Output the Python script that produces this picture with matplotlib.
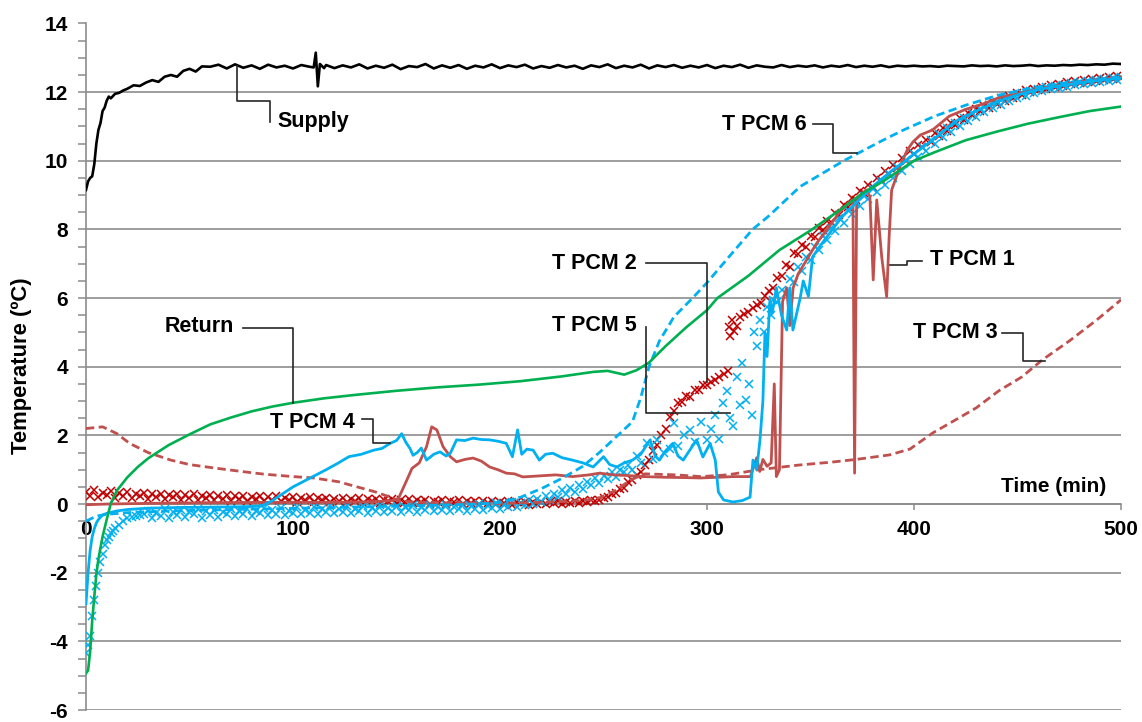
import matplotlib
matplotlib.use("Agg")
import matplotlib.pyplot as plt
from matplotlib.ticker import MultipleLocator

plt.rcParams['font.family'] = ['Liberation Sans', 'DejaVu Sans']
plt.rcParams['font.weight'] = 'bold'
plt.rcParams['axes.unicode_minus'] = False

# ---------------- data (time in min, temperature in degC) ----------------
supply_t = ([0, 1, 2, 3, 4, 5, 6, 7, 8, 9, 10, 11, 12, 14, 16, 18, 20, 23, 26, 29,
             32, 35, 38, 41, 44, 47, 50, 53, 56]
            + list(range(60, 109, 4)) + [110, 111, 112, 113, 115]
            + list(range(116, 501, 4)))
supply_v = ([9.15, 9.4, 9.5, 9.55, 9.9, 10.5, 10.9, 11.1, 11.45, 11.55, 11.75, 11.87, 11.82,
             11.95, 11.98, 12.05, 12.1, 12.2, 12.18, 12.28, 12.35, 12.3, 12.45, 12.5, 12.45,
             12.62, 12.68, 12.6, 12.75]
            + [12.74, 12.80, 12.69, 12.81, 12.71, 12.78, 12.68, 12.80, 12.72, 12.77, 12.69,
               12.79, 12.74]
            + [12.72, 13.15, 12.17, 12.82, 12.70]
            + [12.79, 12.70, 12.78, 12.72, 12.81, 12.69, 12.77, 12.71, 12.80, 12.67, 12.76,
               12.73, 12.82, 12.69, 12.78, 12.71, 12.79, 12.68, 12.77, 12.72, 12.81]
            + [12.70, 12.78, 12.73, 12.80, 12.69, 12.76, 12.71, 12.79, 12.72, 12.77, 12.68,
               12.78, 12.73, 12.81, 12.70, 12.77, 12.72, 12.80, 12.69, 12.78, 12.73, 12.79,
               12.71, 12.77, 12.72]
            + [12.79, 12.70, 12.77, 12.73, 12.80, 12.71, 12.78, 12.74, 12.72, 12.79, 12.73,
               12.77, 12.74, 12.78, 12.72, 12.77, 12.74, 12.79, 12.73, 12.77, 12.74, 12.78,
               12.73, 12.77, 12.75]
            + [12.77, 12.75, 12.76, 12.74, 12.77, 12.76, 12.75, 12.78, 12.76, 12.77, 12.75,
               12.78, 12.76, 12.77, 12.79, 12.76, 12.78, 12.77, 12.79, 12.78, 12.80, 12.79,
               12.81, 12.80, 12.83, 12.82])

return_t = [0, 1, 2, 3, 4, 5, 6, 8, 10, 12, 15, 20, 25, 30, 40, 50, 60, 70, 80, 90, 100,
            115, 130, 150, 170, 190, 210, 230, 245, 252, 260, 266, 272, 280, 290, 300, 305,
            320, 335, 350, 365, 375, 385, 400, 410, 425, 440, 455, 470, 485, 500]
return_v = [-4.93, -4.85, -4.3, -3.4, -2.7, -2.05, -1.6, -0.95, -0.45, 0.02, 0.4, 0.78, 1.08,
            1.33, 1.72, 2.03, 2.32, 2.52, 2.7, 2.84, 2.95, 3.08, 3.18, 3.3, 3.4, 3.48, 3.58,
            3.72, 3.85, 3.88, 3.77, 3.9, 4.12, 4.6, 5.15, 5.65, 6.0, 6.65, 7.4, 7.97, 8.6,
            9.05, 9.4, 10.0, 10.25, 10.6, 10.85, 11.08, 11.27, 11.45, 11.58]

pcm1_t = [0, 10, 30, 60, 90, 120, 140, 148, 151, 155, 157.5, 161, 164.5, 167, 169.5, 172.5,
          176, 179, 183, 187, 191, 195, 199, 203, 207, 211, 219, 227, 235, 243, 248, 255, 262,
          269, 280, 290, 297, 305, 313, 321, 324, 325.5, 327, 329, 331, 332.5, 333.5, 335,
          336.5, 338.5, 340, 341.6, 344, 347, 350, 353, 358, 364, 368, 370.5, 371.3, 372.3,
          375, 377, 378.7, 380.3, 382, 384.4, 386.8, 388, 389.2, 391, 393, 396.6, 399.5, 403,
          409, 417, 425, 433, 441.5, 450, 460, 470, 480, 490, 500]
pcm1_v = [-0.02, 0.0, 0.02, 0.04, 0.05, 0.05, 0.07, 0.1, 0.17, 0.7, 1.04, 1.2, 1.67, 2.25,
          2.16, 1.67, 1.38, 1.23, 1.3, 1.34, 1.25, 1.08, 1.0, 0.9, 0.88, 0.79, 0.82, 0.85, 0.8,
          0.85, 0.9, 0.85, 0.83, 0.8, 0.78, 0.77, 0.76, 0.78, 0.8, 0.8, 1.35, 0.95, 1.3, 1.1,
          1.2, 3.5, 0.8, 1.0, 5.9, 6.3, 5.2, 6.3, 6.7, 7.0, 7.3, 7.6, 8.0, 8.5, 8.75, 8.85,
          0.9, 8.9, 9.05, 9.15, 8.96, 6.53, 8.86, 7.2, 6.04, 7.8, 9.15, 9.45, 9.8, 10.3,
          10.55, 10.75, 10.9, 11.3, 11.5, 11.65, 11.85, 11.95, 12.1, 12.2, 12.3, 12.37, 12.45]

pcm2_t = (list(range(0, 301, 2))
          + [302, 304, 306, 308, 310, 310.5, 311, 312, 313, 314.5, 316, 318, 320, 322, 324,
             326, 328, 330]
          + list(range(332, 501, 2)))
pcm2_v = ([0.36, 0.24, 0.4, 0.2, 0.33, 0.27, 0.38, 0.19, 0.31, 0.22, 0.35, 0.17, 0.29, 0.24,
           0.33, 0.16, 0.28, 0.21, 0.3, 0.15]
          + [0.27, 0.2, 0.29, 0.13, 0.25, 0.18, 0.28, 0.12, 0.24, 0.17, 0.26, 0.11, 0.23, 0.16,
             0.25, 0.1, 0.22, 0.15, 0.24, 0.1]
          + [0.21, 0.14, 0.23, 0.09, 0.2, 0.13, 0.22, 0.08, 0.19, 0.12, 0.21, 0.07, 0.18, 0.12,
             0.2, 0.06, 0.17, 0.11, 0.19, 0.06]
          + [0.16, 0.1, 0.18, 0.05, 0.15, 0.09, 0.17, 0.04, 0.14, 0.08, 0.16, 0.03, 0.13, 0.08,
             0.15, 0.03, 0.12, 0.07, 0.14, 0.02]
          + [0.11, 0.06, 0.13, 0.01, 0.1, 0.05, 0.12, 0.0, 0.09, 0.05, 0.11, 0.0, 0.08, 0.04,
             0.1, -0.01, 0.08, 0.03, 0.09, -0.01]
          + [0.07, 0.02, 0.08, -0.02, 0.06, 0.02, 0.07, -0.02, 0.06, 0.01, 0.07, -0.01, 0.06,
             0.02, 0.08, 0.0, 0.07, 0.03, 0.09, 0.02, 0.1, 0.05, 0.11, 0.08]
          + [0.12, 0.18, 0.2, 0.3, 0.33, 0.45, 0.48, 0.63, 0.7, 0.86, 0.93, 1.14, 1.28, 1.55,
             1.72, 2.0, 2.18, 2.55, 2.72, 2.95, 2.97, 3.14, 3.12, 3.32, 3.33, 3.46, 3.48]
          + [3.55, 3.62, 3.7, 3.78, 3.88, 5.15, 4.9, 5.35, 5.05, 5.2, 5.45, 5.55, 5.6, 5.7,
             5.8, 5.85, 6.05, 6.2]
          + [6.3, 6.6, 6.65, 6.95, 6.92, 7.3, 7.28, 7.55, 7.5, 7.82, 7.78, 8.05, 7.98, 8.25,
             8.22, 8.48, 8.42, 8.7, 8.65, 8.92, 8.85, 9.12, 9.05, 9.3, 9.25, 9.5, 9.45, 9.7,
             9.62, 9.88, 9.8, 10.08, 10.0, 10.28, 10.2, 10.45, 10.4, 10.62, 10.56, 10.8,
             10.72, 10.95, 10.88, 11.1, 11.03, 11.25, 11.18, 11.38, 11.32, 11.5, 11.44, 11.6,
             11.55, 11.72, 11.66, 11.82, 11.75, 11.9, 11.84, 11.98, 11.92, 12.05, 11.99, 12.1,
             12.05, 12.16, 12.1, 12.21, 12.15, 12.25, 12.19, 12.29, 12.23, 12.33, 12.27,
             12.36, 12.3, 12.39, 12.33, 12.42, 12.36, 12.44, 12.39, 12.47, 12.42])

pcm3_t = [0, 8, 15, 21, 30, 41, 50, 62, 75, 86, 100, 110, 122, 131, 140, 147, 151, 160, 180,
          200, 220, 240, 248, 256, 263, 270, 285, 297, 310, 325, 335, 345, 360, 372, 388, 398,
          409, 420, 430, 441, 452, 462, 475, 488, 500]
pcm3_v = [2.2, 2.25, 2.05, 1.77, 1.5, 1.28, 1.15, 1.05, 0.95, 0.87, 0.8, 0.76, 0.65, 0.5,
          0.35, 0.2, 0.1, 0.05, 0.03, 0.02, 0.05, 0.1, 0.18, 0.4, 0.7, 0.88, 0.85, 0.8, 0.85,
          1.0, 1.07, 1.14, 1.22, 1.3, 1.43, 1.6, 2.07, 2.45, 2.8, 3.3, 3.7, 4.2, 4.75, 5.35,
          5.95]

pcm4_t = [0, 1, 2, 3, 4, 5, 6, 8, 10, 15, 20, 30, 45, 60, 75, 85, 90, 95, 100, 108, 116, 122,
          127, 133, 139, 143, 147, 150, 152.5, 154.5, 156.5, 158, 160, 162, 164.5, 168, 171,
          174, 176, 179, 183, 187, 191, 195, 199, 203, 206, 208.5, 210.5, 213, 216, 219, 222,
          225.5, 230, 235, 240, 245, 250, 253, 256.5, 260, 264, 268, 272.5, 275, 277, 280,
          283.5, 286, 288.5, 292, 295, 298, 301.5, 304, 305.5, 308, 312.5, 317, 320.8, 322.2,
          324, 325.6, 327, 328, 329, 330.4, 331.5, 333.5, 336, 338.5, 340, 341.5, 345, 346.5,
          349, 351, 355, 360, 365, 370, 375, 380, 385, 390, 395, 400, 410, 420, 430, 440, 450,
          460, 470, 480, 490, 500]
pcm4_v = [-2.9, -2.0, -1.35, -0.95, -0.72, -0.55, -0.45, -0.32, -0.27, -0.2, -0.16, -0.12,
          -0.1, -0.09, -0.08, -0.06, 0.1, 0.3, 0.5, 0.75, 1.0, 1.2, 1.38, 1.45, 1.57, 1.62,
          1.77, 1.85, 2.05, 1.8, 1.62, 1.42, 1.5, 1.63, 1.28, 1.45, 1.52, 1.4, 1.48, 1.87,
          1.85, 1.92, 1.88, 1.87, 1.83, 1.77, 1.38, 2.16, 1.45, 1.6, 1.57, 1.28, 1.45, 1.48,
          1.35, 1.28, 1.2, 1.08, 1.38, 1.15, 1.08, 1.2, 1.28, 1.45, 1.87, 1.4, 1.28, 1.55,
          1.77, 1.4, 1.28, 1.6, 1.87, 1.37, 1.77, 1.28, 0.35, 0.12, 0.06, 0.1, 0.2, 1.28, 1.0,
          1.87, 3.0, 5.0, 4.3, 5.95, 5.56, 6.3, 5.5, 5.07, 6.3, 5.07, 6.0, 6.5, 6.05, 7.2,
          7.55, 7.95, 8.35, 8.65, 8.95, 9.25, 9.5, 9.75, 9.95, 10.2, 10.65, 11.15, 11.45,
          11.72, 11.92, 12.08, 12.18, 12.27, 12.35, 12.4]

pcm5_t = ([0, 1, 2, 3, 4, 5, 6, 7, 8, 9, 10, 11, 12, 13, 14, 16, 18, 20, 22, 24, 26, 28]
          + list(range(30, 263, 2))
          + [264, 266, 268, 271, 274, 276, 279, 282, 284, 286, 289, 292, 294, 297, 300, 302,
             304, 306, 307.5, 309.5, 311, 312.5, 314.5, 316, 317, 319, 320.5, 321.7, 322.5,
             324, 325.6, 327.5, 329, 331]
          + list(range(332, 501, 2)))
pcm5_v = ([-4.35, -4.1, -3.85, -3.25, -2.8, -2.4, -2.0, -1.7, -1.45, -1.2, -1.05, -0.95,
           -0.85, -0.78, -0.7, -0.6, -0.5, -0.42, -0.38, -0.35, -0.32, -0.3]
          + [-0.2, -0.4, -0.25, -0.35, -0.15, -0.42, -0.22, -0.33, -0.18, -0.38, -0.24, -0.3,
             -0.14, -0.4, -0.2, -0.32, -0.17, -0.37, -0.23, -0.29]
          + [-0.13, -0.36, -0.2, -0.3, -0.15, -0.34, -0.21, -0.27, -0.11, -0.33, -0.18, -0.28,
             -0.12, -0.31, -0.19, -0.25, -0.09, -0.3, -0.16, -0.26]
          + [-0.08, -0.28, -0.15, -0.23, -0.07, -0.27, -0.14, -0.22, -0.05, -0.26, -0.13, -0.2,
             -0.06, -0.25, -0.12, -0.21, -0.04, -0.24, -0.11, -0.19]
          + [-0.05, -0.23, -0.1, -0.18, -0.03, -0.22, -0.1, -0.17, -0.04, -0.21, -0.09, -0.16,
             -0.02, -0.2, -0.08, -0.15, -0.03, -0.19, -0.07, -0.14]
          + [-0.01, -0.17, -0.06, -0.12, 0.02, -0.14, -0.03, -0.08, 0.05, -0.08, 0.04, -0.02,
             0.12, 0.0, 0.14, 0.06, 0.22, 0.12, 0.3, 0.2]
          + [0.4, 0.3, 0.48, 0.36, 0.55, 0.45, 0.65, 0.55, 0.75, 0.62, 0.82, 0.72, 0.92, 0.8,
             1.0, 0.92, 1.15]
          + [1.0, 1.4, 1.2, 1.77, 1.3, 1.87, 1.5, 1.6, 2.36, 1.7, 2.0, 2.16, 1.8, 2.4, 1.87,
             2.2, 2.6, 1.9, 2.94, 3.3, 2.5, 2.26, 3.7, 2.9, 4.1, 3.03, 3.5, 2.6, 5.0, 4.6,
             5.36, 5.0, 5.75, 5.5]
          + [5.95, 5.88, 6.25, 6.15, 6.55, 6.48, 6.9, 6.8, 7.2, 7.1, 7.5, 7.4, 7.8, 7.68,
             8.05, 7.95, 8.32, 8.2, 8.56, 8.45, 8.78, 8.68, 8.98, 8.88, 9.18, 9.1, 9.41, 9.3,
             9.61, 9.5, 9.81, 9.7, 10.01, 9.9, 10.21, 10.1, 10.41, 10.3, 10.6, 10.5, 10.78,
             10.68, 10.95, 10.85, 11.1, 11.0, 11.25, 11.15, 11.38, 11.28, 11.5, 11.42, 11.62,
             11.53, 11.72, 11.64, 11.82, 11.74, 11.9, 11.82, 11.97, 11.9, 12.04, 11.97, 12.09,
             12.03, 12.14, 12.08, 12.18, 12.12, 12.22, 12.16, 12.26, 12.2, 12.3, 12.24, 12.33,
             12.27, 12.36, 12.3, 12.39, 12.33, 12.41, 12.36, 12.44])

pcm6_t = [0, 5, 10, 20, 40, 80, 120, 160, 190, 200, 210, 220, 230, 240, 248, 256, 264, 268,
          272, 277, 284, 293, 300, 312, 322, 330, 345, 366, 385, 395, 410, 425, 440, 455, 470,
          485, 500]
pcm6_v = [-0.5, -0.35, -0.3, -0.25, -0.2, -0.15, -0.1, -0.05, 0.0, 0.05, 0.2, 0.45, 0.75,
          1.1, 1.5, 1.95, 2.4, 3.1, 4.0, 4.75, 5.45, 6.0, 6.45, 7.3, 8.0, 8.4, 9.25, 10.0,
          10.6, 10.9, 11.3, 11.62, 11.9, 12.1, 12.25, 12.35, 12.45]

x_ticks = [0, 100, 200, 300, 400, 500]
y_ticks = [-6, -4, -2, 0, 2, 4, 6, 8, 10, 12, 14]

# ---------------- figure ----------------
W, H = 1142, 722
fig = plt.figure(figsize=(W / 100, H / 100), dpi=100)
ax = fig.add_axes([86 / W, 1 - 710 / H, 1035 / W, (710 - 23.5) / H])
ax.set_xlim(0, 500)
ax.set_ylim(-6, 14)

RED_X = '#C00000'
BROWN = '#C0504D'
BLUE = '#00B0F0'
GREEN = '#00B050'

ax.plot(pcm2_t, pcm2_v, ls='none', marker='x', ms=6, mew=1.1, color=RED_X, zorder=3)
ax.plot(pcm5_t, pcm5_v, ls='none', marker='x', ms=6, mew=1.1, color=BLUE, zorder=3)
ax.plot(pcm3_t, pcm3_v, ls=(0, (3, 1.6)), lw=2.0, color=BROWN, zorder=4)
ax.plot(pcm1_t, pcm1_v, lw=2.0, color=BROWN, zorder=4)
ax.plot(pcm4_t, pcm4_v, lw=2.0, color=BLUE, zorder=4)
ax.plot(pcm6_t, pcm6_v, ls=(0, (3, 1.6)), lw=2.0, color=BLUE, zorder=4)
ax.plot(return_t, return_v, lw=1.9, color=GREEN, zorder=5)
ax.plot(supply_t, supply_v, lw=1.9, color='black', zorder=5)

# axes styling
GRID = '#8c8c8c'
for s in ('top', 'right'):
    ax.spines[s].set_visible(False)
ax.spines['bottom'].set_position(('data', 0))
ax.spines['left'].set_color(GRID)
ax.spines['bottom'].set_color(GRID)
ax.spines['left'].set_linewidth(1.2)
ax.spines['bottom'].set_linewidth(1.2)

ax.set_xticks(x_ticks)
ax.set_yticks(y_ticks)
ax.yaxis.set_minor_locator(MultipleLocator(0.5))
ax.tick_params(axis='y', which='both', direction='out', length=6, width=1.1,
               color=GRID, labelsize=15, pad=7)
ax.tick_params(axis='x', which='both', direction='out', length=4.5, width=1.1,
               color=GRID, labelsize=15, pad=7)
for lab in ax.get_xticklabels() + ax.get_yticklabels():
    lab.set_fontweight('bold')
ax.yaxis.grid(True, color=GRID, lw=1.2, zorder=0)
ax.set_axisbelow(True)

fig.text(22 / W, 1 - 366 / H, 'Temperature (ºC)', rotation=90, ha='center', va='center',
         fontsize=15.8, fontweight='bold')
ax.text(493, 0.5, 'Time (min)', ha='right', va='center', fontsize=15, fontweight='bold')

# callout labels with elbow leader lines (Excel style)
callouts = [
    ('Supply', 92.3, 11.14, 'left', [(72.9, 12.75), (72.9, 11.75), (88.9, 11.75), (88.9, 11.14)]),
    ('Return', 71.5, 5.16, 'right', [(76.0, 5.13), (100.0, 5.13), (100.0, 2.93)]),
    ('T PCM 4', 130.0, 2.37, 'right', [(133.2, 2.47), (138.8, 2.47), (138.8, 1.77), (146.9, 1.77)]),
    ('T PCM 5', 266.0, 5.2, 'right', [(270.4, 5.17), (270.4, 2.64), (311.1, 2.64)]),
    ('T PCM 2', 266.0, 7.0, 'right', [(270.4, 7.02), (299.8, 7.02), (299.8, 3.57)]),
    ('T PCM 6', 348.3, 11.05, 'right', [(351.2, 11.08), (361.0, 11.08), (361.0, 10.22), (372.3, 10.22)]),
    ('T PCM 1', 407.7, 7.11, 'left', [(403.7, 7.09), (396.4, 7.09), (396.4, 6.95), (388.4, 6.95)]),
    ('T PCM 3', 440.6, 5.0, 'right', [(442.3, 4.98), (452.8, 4.98), (452.8, 4.17), (463.3, 4.17)]),
]
for label, tx, ty, ha, path in callouts:
    ax.text(tx, ty, label, ha=ha, va='center', fontsize=15.5, fontweight='bold', zorder=7)
    ax.plot([p[0] for p in path], [p[1] for p in path], color='#262626', lw=1.2, zorder=6)

fig.savefig('out.png', dpi=100)
